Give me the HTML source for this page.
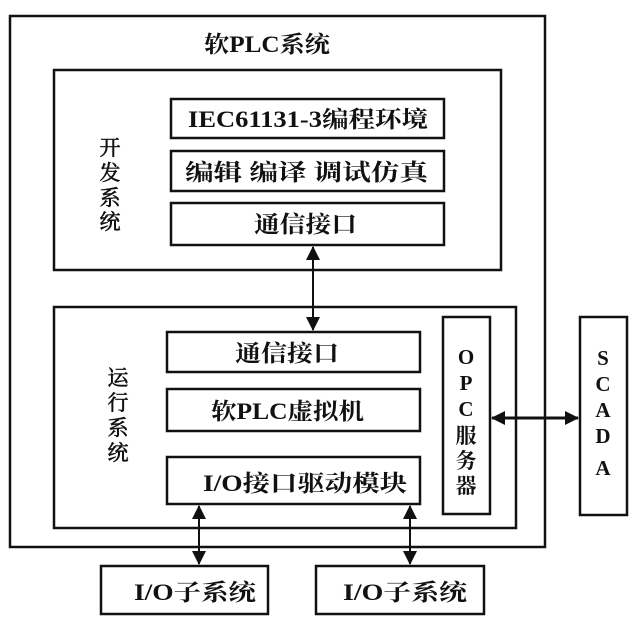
<!DOCTYPE html>
<html><head><meta charset="utf-8"><style>
body{margin:0;width:640px;height:626px;background:#fff;overflow:hidden}
</style></head><body>
<svg width="640" height="626" xmlns="http://www.w3.org/2000/svg" font-family="'Liberation Serif','Noto Serif CJK SC',serif" font-weight="bold">
<defs>
<marker id="b" markerWidth="14" markerHeight="14" refX="13" refY="7" orient="auto-start-reverse" markerUnits="userSpaceOnUse"><path d="M0,0 L14,7 L0,14 z" fill="#111"/></marker>
</defs>
<g fill="none" stroke="#111" stroke-width="2.5">
<rect x="10" y="16" width="535" height="531"/>
<rect x="54" y="70" width="447" height="200"/>
<rect x="171" y="99" width="273" height="39"/>
<rect x="171" y="151" width="273" height="40"/>
<rect x="171" y="203" width="273" height="42"/>
<rect x="54" y="307" width="462" height="221"/>
<rect x="167" y="332" width="253" height="40"/>
<rect x="167" y="389" width="253" height="42"/>
<rect x="167" y="457" width="253" height="47"/>
<rect x="443" y="317" width="47" height="197"/>
<rect x="580" y="317" width="47" height="198"/>
<rect x="101" y="566" width="167" height="48"/>
<rect x="316" y="566" width="168" height="48"/>
<line x1="313" y1="247" x2="313" y2="330" marker-start="url(#b)" marker-end="url(#b)" stroke-width="2"/>
<line x1="492" y1="418" x2="578" y2="418" marker-start="url(#b)" marker-end="url(#b)" stroke-width="3"/>
<line x1="199" y1="506" x2="199" y2="564" marker-start="url(#b)" marker-end="url(#b)" stroke-width="2"/>
<line x1="410" y1="506" x2="410" y2="564" marker-start="url(#b)" marker-end="url(#b)" stroke-width="2"/>
</g>
<g fill="#111" font-size="23" lengthAdjust="spacingAndGlyphs">
<text x="204" y="52" textLength="126" lengthAdjust="spacingAndGlyphs">软PLC系统</text>
<text x="188" y="127" textLength="240" lengthAdjust="spacingAndGlyphs">IEC61131-3编程环境</text>
<text x="185" y="180" textLength="243" lengthAdjust="spacingAndGlyphs">编辑  编译  调试仿真</text>
<text x="254" y="232" textLength="103" lengthAdjust="spacingAndGlyphs">通信接口</text>
<text x="235" y="361" textLength="104" lengthAdjust="spacingAndGlyphs">通信接口</text>
<text x="211" y="419" textLength="153" lengthAdjust="spacingAndGlyphs">软PLC虚拟机</text>
<text x="203" y="491" textLength="204" lengthAdjust="spacingAndGlyphs">I/O接口驱动模块</text>
<text x="134" y="600" textLength="122" lengthAdjust="spacingAndGlyphs">I/O子系统</text>
<text x="343" y="600" textLength="124" lengthAdjust="spacingAndGlyphs">I/O子系统</text>
</g>
<g fill="#111" font-size="21" text-anchor="middle" font-weight="normal" stroke="#111" stroke-width="0.6">
<text x="110" y="155">开</text><text x="110" y="180">发</text><text x="110" y="205">系</text><text x="110" y="229">统</text>
<text x="118" y="385">运</text><text x="118" y="410">行</text><text x="118" y="435">系</text><text x="118" y="460">统</text>
</g>
<g fill="#111" font-size="21" text-anchor="middle">
<text x="466" y="364">O</text><text x="466" y="390">P</text><text x="466" y="416">C</text><text x="466" y="443">服</text><text x="466" y="468">务</text><text x="466" y="493">器</text>
<text x="603" y="365">S</text><text x="603" y="391">C</text><text x="603" y="417">A</text><text x="603" y="443">D</text><text x="603" y="475">A</text>
</g>
</svg>
</body></html>
